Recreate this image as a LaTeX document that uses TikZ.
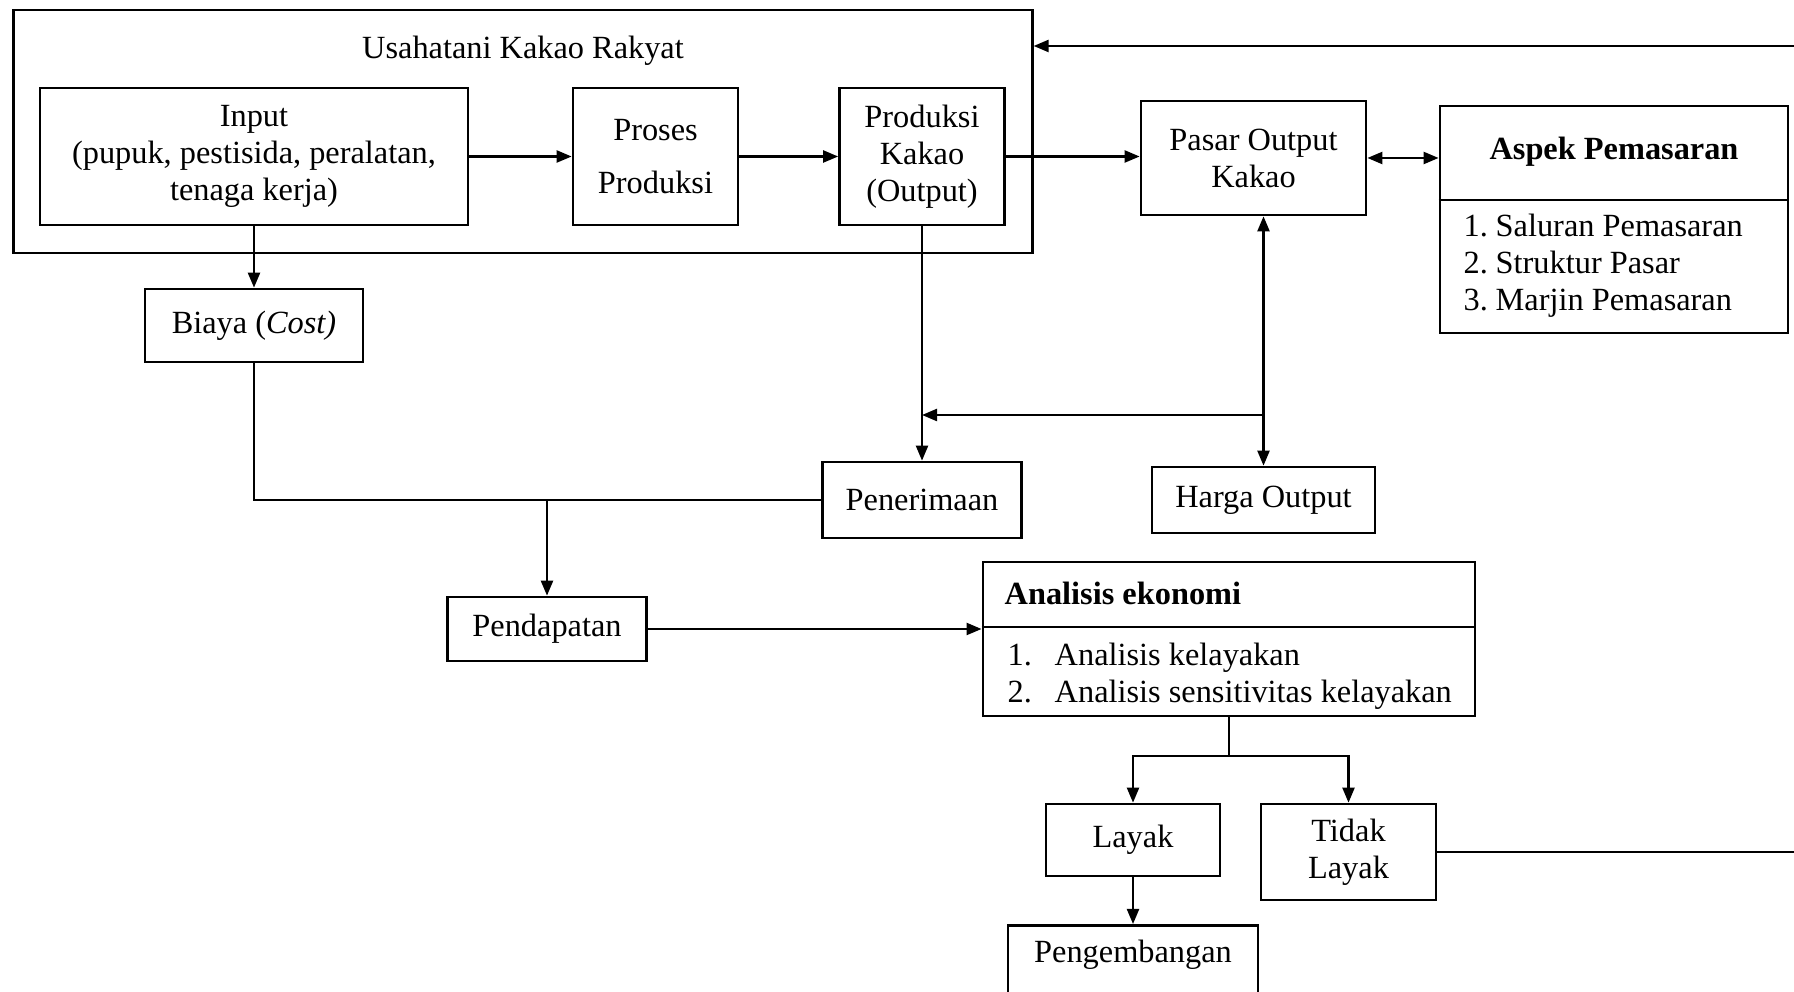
\documentclass[tikz,border=0pt]{standalone}
\usepackage{fontspec}
\setmainfont{Liberation Serif}
\usetikzlibrary{positioning, arrows.meta}

\begin{document}
\begin{tikzpicture}[x=0.01cm, y=-0.01cm,
  font=\fontsize{9.2}{10.5}\selectfont,
  box/.style={draw, line width=0.75pt, inner sep=0pt, align=center},
  arr/.style={-{Triangle[length=0.15cm, width=0.12cm]}, line width=0.65pt},
  dblarr/.style={{Triangle[length=0.15cm, width=0.12cm]}-{Triangle[length=0.15cm, width=0.12cm]}, line width=0.65pt},
  link/.style={line width=0.65pt}]
  \useasboundingbox (0,0) rectangle (1794,992);
  % usahatani block
  \node[box, minimum width=10.18cm, minimum height=2.43cm] (farm) at (523,131.5) {};
  \node (farmtitle) at (523,51) {Usahatani Kakao Rakyat};
  \node[box, minimum width=4.28cm, minimum height=1.37cm] (input) at (254,156.5) {Input\\(pupuk, pestisida, peralatan,\\tenaga kerja)};
  \node[box, minimum width=1.65cm, minimum height=1.37cm] (proses) at (655.5,156.5) {Proses\\[4.5pt]Produksi};
  \node[box, minimum width=1.65cm, minimum height=1.37cm] (produksi) at (922,156.5) {Produksi\\Kakao\\(Output)};
  % market
  \node[box, minimum width=2.25cm, minimum height=1.14cm] (pasar) at (1253.5,158) {Pasar Output\\Kakao};
  \node[box, minimum width=3.48cm, minimum height=2.27cm] (aspek) at (1614,219.5) {};
  \node (aspekhead) at (1614,152) {\textbf{Aspek Pemasaran}};
  \draw[link, line width=0.75pt] (aspek.west |- 0,200) -- (aspek.east |- 0,200);
  \node[anchor=west, align=left, inner sep=0pt] (aspeklist) at (1463,266)
    {\makebox[0.32cm][l]{1.}Saluran Pemasaran\\\makebox[0.32cm][l]{2.}Struktur Pasar\\\makebox[0.32cm][l]{3.}Marjin Pemasaran};
  % cost and revenue
  \node[box, minimum width=2.18cm, minimum height=0.73cm] (biaya) at (254,325.5) {Biaya (\textit{Cost)}};
  \node[box, minimum width=1.99cm, minimum height=0.76cm] (penerimaan) at (922,500) {Penerimaan};
  \node[box, minimum width=2.23cm, minimum height=0.66cm] (harga) at (1263.5,500) {Harga Output};
  \node[box, minimum width=1.99cm, minimum height=0.64cm] (pendapatan) at (547,629) {Pendapatan};
  % economic analysis
  \node[box, minimum width=4.92cm, minimum height=1.54cm] (analisis) at (1229,639) {};
  \node[anchor=west, inner sep=0pt] (analisishead) at (1004,593) {\textbf{Analisis ekonomi}};
  \draw[link, line width=0.75pt] (analisis.west |- 0,627) -- (analisis.east |- 0,627);
  \node[anchor=west, align=left, inner sep=0pt] (analisislist) at (1007,676)
    {\makebox[0.47cm][l]{1.}Analisis kelayakan\\\makebox[0.47cm][l]{2.}Analisis sensitivitas kelayakan};
  \node[box, minimum width=1.74cm, minimum height=0.72cm] (layak) at (1133,840) {Layak};
  \node[box, minimum width=1.75cm, minimum height=0.96cm] (tidak) at (1348.5,852) {Tidak\\Layak};
  \node[box, minimum width=2.5cm, inner ysep=0.15cm, text depth=0.7cm, anchor=north] (dev) at (1133,924) {Pengembangan};
  % free ends and joints
  \coordinate (topright) at (1794,46);
  \coordinate (rightend) at (1794,852);
  \coordinate (costjoin) at (547,501);
  \coordinate (pricejoin) at (1263.5,415);
  \coordinate (split) at (1229,756);
  % connectors
  \draw[arr] (input) -- (proses);
  \draw[arr] (proses) -- (produksi);
  \draw[arr] (produksi.east) -- (produksi.east -| pasar.west);
  \draw[dblarr] (pasar.east) -- (pasar.east -| aspek.west);
  \draw[arr] (topright) -- (topright -| farm.east);
  \draw[arr] (input) -- (biaya);
  \draw[link] (biaya.south) -- (biaya.south |- penerimaan.west) -- (penerimaan.west);
  \draw[arr] (costjoin) -- (pendapatan.north);
  \draw[arr] (produksi) -- (penerimaan);
  \draw[dblarr] (harga.north |- pasar.south) -- (harga.north);
  \draw[arr] (pricejoin) -- (pricejoin -| produksi.south);
  \draw[arr] (pendapatan.east) -- (pendapatan.east -| analisis.west);
  \draw[link] (analisis.south) -- (split);
  \draw[arr] (split) -| (layak.north);
  \draw[arr] (split) -| (tidak.north);
  \draw[link] (tidak.east) -- (rightend);
  \draw[arr] (layak) -- (dev);
\end{tikzpicture}
\end{document}
